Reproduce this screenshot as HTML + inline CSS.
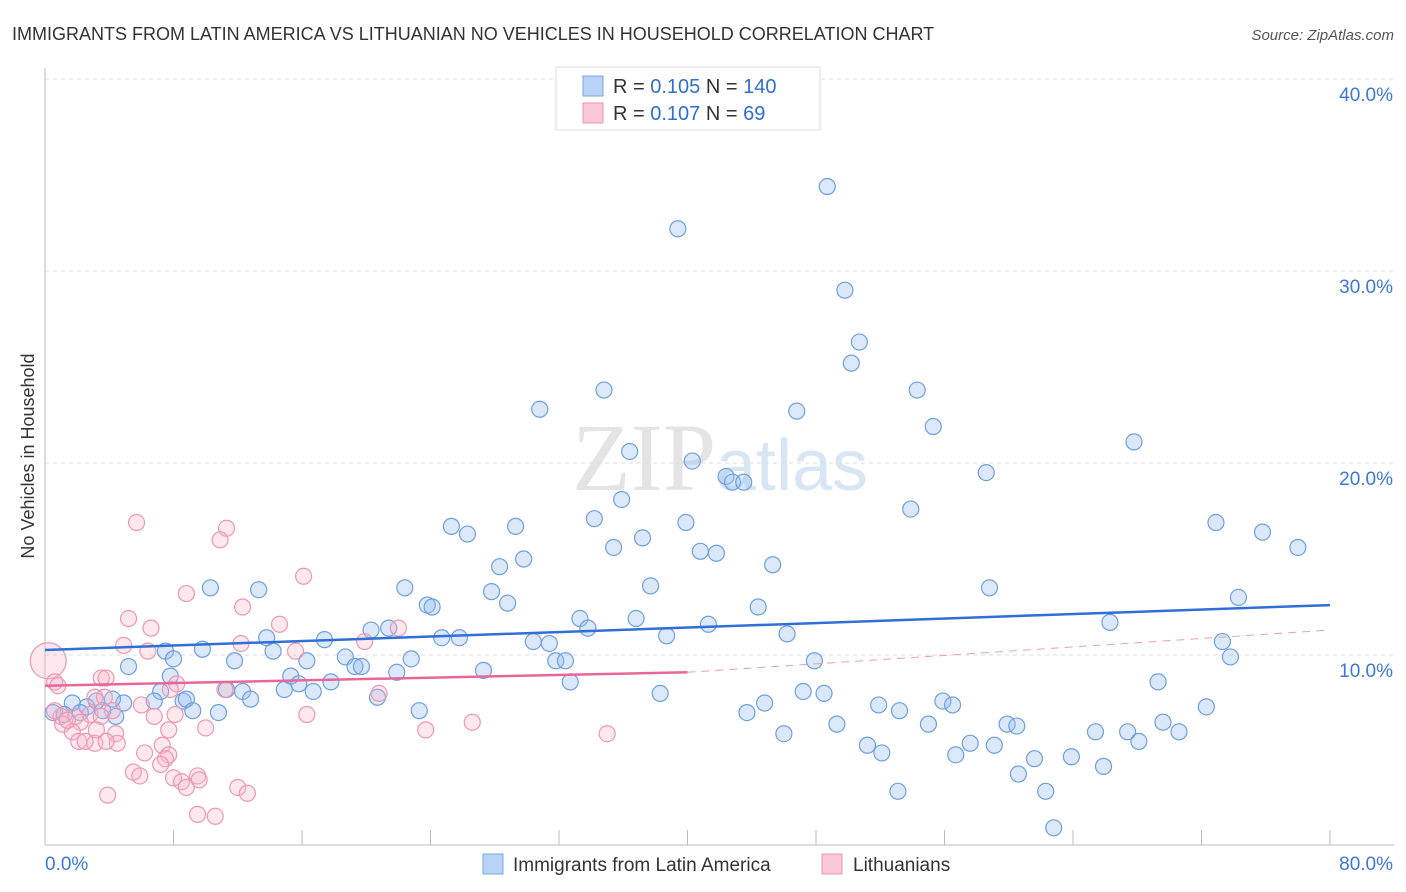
<!DOCTYPE html>
<html><head><meta charset="utf-8">
<style>
body{margin:0;background:#fff;font-family:"Liberation Sans",sans-serif;}
svg{display:block}
</style></head>
<body>
<svg id="chart" width="1406" height="892">
<text x="12" y="40" font-size="18" fill="#333">IMMIGRANTS FROM LATIN AMERICA VS LITHUANIAN NO VEHICLES IN HOUSEHOLD CORRELATION CHART</text>
<text x="1394" y="40" font-size="15" fill="#555" font-style="italic" text-anchor="end">Source: ZipAtlas.com</text>
<text x="720" y="490" font-size="96" fill="#e4e4e4" text-anchor="middle" font-family="Liberation Serif,serif">ZIP<tspan fill="#d8e6f4" font-family="Liberation Sans,sans-serif" font-size="72">atlas</tspan></text>
<text transform="translate(34,456) rotate(-90)" font-size="18" fill="#333" text-anchor="middle">No Vehicles in Household</text>
<g id="grid"></g><g id="pts"></g><g id="trends"></g>
<g>
<rect x="556" y="67" width="264" height="63" fill="#fff" stroke="#ddd"/>
<rect x="583" y="76" width="20" height="20" fill="#b8d3f5" stroke="#7aa7e0"/>
<rect x="583" y="103" width="20" height="20" fill="#fbc6d6" stroke="#ee95b0"/>
<text x="613" y="93" font-size="20" fill="#333">R = <tspan fill="#2f6fcf">0.105</tspan>   N = <tspan fill="#2f6fcf">140</tspan></text>
<text x="613" y="120" font-size="20" fill="#333">R = <tspan fill="#2f6fcf">0.107</tspan>   N =   <tspan fill="#2f6fcf">69</tspan></text>
</g>
<g>
<rect x="483" y="854" width="20" height="20" fill="#b8d3f5" stroke="#7aa7e0"/>
<text x="513" y="871" font-size="19" fill="#333">Immigrants from Latin America</text>
<rect x="822" y="854" width="20" height="20" fill="#fbc6d6" stroke="#ee95b0"/>
<text x="853" y="871" font-size="19" fill="#333">Lithuanians</text>
</g>
</svg>
<script>
const blueX=[48.7,39.4,49.8,50.7,50.2,34.8,54.3,30.8,46.8,55.3,67.8,36.4,40.3,42.4,42.8,43.5,58.6,35.9,53.9,34.2,25.3,29.3,39.9,72.9,26.3,37.2,75.8,35.4,40.8,41.8,78.0,29.8,28.3,45.3,37.7,58.8,22.4,10.3,13.3,27.8,74.3,23.8,24.1,28.8,44.4,33.3,36.8,33.8,41.3,66.3,20.3,21.4,46.2,13.8,17.4,24.7,25.8,38.7,30.4,31.4,73.3,9.8,14.2,7.5,8.0,73.8,18.7,16.3,11.8,22.8,31.8,32.4,5.2,19.3,19.7,27.3,21.9,47.9,7.8,15.3,17.8,32.7,15.8,69.3,11.3,14.9,16.7,7.2,12.3,47.2,48.5,38.3,20.7,6.8,8.6,8.8,12.8,4.9,44.8,55.9,56.5,72.3,51.9,53.2,23.3,43.7,10.8,9.2,3.6,1.7,3.2,2.6,4.2,0.5,2.2,1.2,4.4,55.0,59.9,60.5,49.3,69.6,65.4,67.4,70.6,46.0,57.6,59.1,68.1,51.2,56.7,52.1,61.6,63.9,65.9,60.6,62.3,53.1,62.8];
const blueY=[34.4,32.2,29.0,26.3,25.2,23.8,23.8,22.8,22.7,21.9,21.1,20.6,20.1,19.3,19.0,19.0,19.5,18.1,17.6,17.1,16.7,16.7,16.9,16.9,16.3,16.1,16.4,15.6,15.4,15.3,15.6,15.0,14.6,14.7,13.6,13.5,13.5,13.5,13.4,13.3,13.0,12.6,12.5,12.7,12.5,11.9,11.9,11.4,11.6,11.7,11.3,11.4,11.1,10.9,10.8,10.9,10.9,11.0,10.7,10.6,10.7,10.3,10.2,10.2,9.8,9.9,9.9,9.7,9.7,9.8,9.7,9.7,9.4,9.4,9.4,9.2,9.1,9.7,8.9,8.9,8.6,8.6,8.5,8.6,8.2,8.2,8.1,8.1,8.1,8.1,8.0,8.0,7.8,7.6,7.6,7.7,7.7,7.5,7.5,7.6,7.4,7.3,7.4,7.1,7.1,7.0,7.0,7.1,7.1,7.5,7.6,7.3,7.7,7.0,7.0,6.9,6.8,6.4,6.4,6.3,6.4,6.5,6.0,6.0,6.0,5.9,5.4,5.3,5.5,5.3,4.8,4.9,4.6,4.7,4.2,3.8,2.9,2.9,1.0];
const pinkX=[0.2,0.6,0.8,5.7,11.3,10.9,16.1,8.8,12.3,5.2,6.6,14.6,22.0,4.9,12.2,19.9,6.4,15.6,3.5,3.8,8.2,7.8,11.2,3.1,3.7,20.8,6.0,4.2,2.8,3.5,8.1,6.8,1.0,1.9,16.3,26.6,2.2,10.0,7.7,3.2,1.7,4.4,23.7,35.0,4.5,2.1,3.1,7.3,6.2,7.7,7.5,7.2,5.5,5.9,8.0,9.5,9.6,8.5,8.8,12.0,3.9,12.6,9.5,10.6,3.8,1.1,2.5,0.6,1.4];
const pinkY=[9.7,8.6,8.4,16.9,16.6,16.0,14.1,13.2,12.5,11.9,11.4,11.6,11.4,10.5,10.6,10.7,10.2,10.2,8.8,8.8,8.5,8.2,8.2,7.8,7.8,8.0,7.4,7.1,6.9,6.8,6.9,6.8,6.8,6.8,6.9,6.5,6.5,6.2,6.1,6.1,6.0,5.9,6.1,5.9,5.4,5.5,5.4,5.3,4.9,4.8,4.6,4.3,3.9,3.7,3.6,3.7,3.5,3.4,3.1,3.1,2.7,2.8,1.7,1.6,5.5,6.4,5.5,7.1,6.6];
const blueTrend=[[0,10.26],[80,12.6]];
const pinkTrend=[[0,8.4],[40,9.1]];
const pinkTrendExt=[[40,9.1],[80,11.3]];
const yTicks=[10,20,30,40];
const xTickVals=[0,8,16,24,32,40,48,56,64,72,80];

const NS='http://www.w3.org/2000/svg';
const X=v=>45+v*(1285/80), Y=v=>847-v*19.2;
function mk(tag,attrs,parent){const e=document.createElementNS(NS,tag);for(const k in attrs)e.setAttribute(k,attrs[k]);parent.appendChild(e);return e;}
const grid=document.getElementById('grid');
yTicks.forEach(t=>{
  const l=mk('line',{x1:45,x2:1394,y1:Y(t),y2:Y(t),stroke:'#ddd','stroke-dasharray':'4,4'},grid);
  
  
  const tx=mk('text',{x:1393,y:Y(t)+22,'font-size':19,fill:'#3b78d8','text-anchor':'end'},grid);
  tx.textContent=t.toFixed(1)+'%';
  
  
});
const ax=mk('line',{x1:45,x2:1394,y1:845,y2:845,stroke:'#bbb'},grid);


const ay=mk('line',{x1:45,x2:45,y1:68,y2:845,stroke:'#bbb'},grid);


xTickVals.forEach(t=>{
  const l=mk('line',{x1:X(t),x2:X(t),y1:830,y2:845,stroke:'#bbb'},grid);
  
  
});
const xl0=mk('text',{x:45,y:870,'font-size':19,fill:'#3b78d8'},grid);xl0.textContent='0.0%';


const xl1=mk('text',{x:1393,y:870,'font-size':19,fill:'#3b78d8','text-anchor':'end'},grid);xl1.textContent='80.0%';


const pts=document.getElementById('pts');
blueX.forEach((v,i)=>{
  const c=mk('circle',{cx:X(v),cy:Y(blueY[i]),r:8,fill:'rgba(150,190,240,0.35)',stroke:'#6f9fe0','stroke-width':1.2},pts);
  
  
});
pinkX.forEach((v,i)=>{
  const c=mk('circle',{cx:X(v),cy:Y(pinkY[i]),r:i===0?18:8,fill:'rgba(248,180,200,0.3)',stroke:'#ee97b2','stroke-width':1.2},pts);
  
  
});
const tr=document.getElementById('trends');
const b=mk('line',{x1:X(blueTrend[0][0]),y1:Y(blueTrend[0][1]),x2:X(blueTrend[1][0]),y2:Y(blueTrend[1][1]),stroke:'#2f6fd6','stroke-width':2.5},tr);


const p=mk('line',{x1:X(pinkTrend[0][0]),y1:Y(pinkTrend[0][1]),x2:X(pinkTrend[1][0]),y2:Y(pinkTrend[1][1]),stroke:'#e8679a','stroke-width':2.5},tr);


const pd=mk('line',{x1:X(pinkTrendExt[0][0]),y1:Y(pinkTrendExt[0][1]),x2:X(pinkTrendExt[1][0]),y2:Y(pinkTrendExt[1][1]),stroke:'#e8a0b8','stroke-width':1,'stroke-dasharray':'8,6'},tr);


</script>
</body></html>
